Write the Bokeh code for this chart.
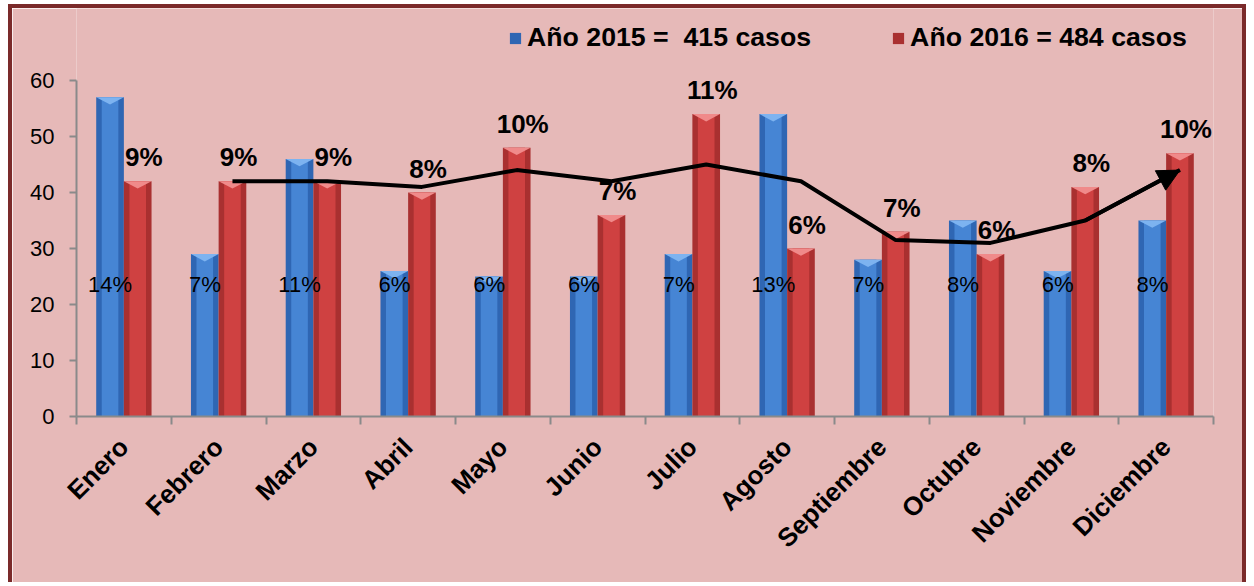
import math
from bokeh.plotting import figure
from bokeh.models import (Range1d, FixedTicker, Legend, LegendItem,
                          ColumnDataSource, Arrow, NormalHead)
from bokeh.core.properties import value
from bokeh.embed import file_html
from bokeh.resources import INLINE

# ---------------- data ----------------
months = ["Enero", "Febrero", "Marzo", "Abril", "Mayo", "Junio", "Julio",
          "Agosto", "Septiembre", "Octubre", "Noviembre", "Diciembre"]
cases_2015 = [57, 29, 46, 26, 25, 25, 29, 54, 28, 35, 26, 35]
cases_2016 = [42, 42, 42, 40, 48, 36, 54, 30, 33, 29, 41, 47]
pct_2015 = ["14%", "7%", "11%", "6%", "6%", "6%", "7%", "13%", "7%", "8%", "6%", "8%"]
pct_2016 = ["9%", "9%", "9%", "8%", "10%", "7%", "11%", "6%", "7%", "6%", "8%", "10%"]
legend_2015 = "Año 2015 =  415 casos"
legend_2016 = "Año 2016 = 484 casos"
y_ticks = [0, 10, 20, 30, 40, 50, 60]

# ---------------- styling ----------------
FONT = "Liberation Sans"
BG = "#e6b9b8"
BORDER = "#7a2a2a"
BLUE_DARK = "#2f66b3"
BLUE_LIGHT = "#4685d4"
BLUE_TOP = "#7db3f0"
RED_DARK = "#a93030"
RED_LIGHT = "#cf4141"
RED_TOP = "#f08a8a"
AXIS = "#8a8a8a"

n = len(months)
centers = [i + 0.5 for i in range(n)]
off = 0.146
bw = 0.292
x15 = [c - off for c in centers]
x16 = [c + off for c in centers]

# moving average (period 2) trend line of the 2016 series, as in the source chart
trend_x = x16[1:]
trend_y = [(cases_2016[i - 1] + cases_2016[i]) / 2 for i in range(1, n)]

src = ColumnDataSource(dict(x15=x15, x16=x16, c15=cases_2015, c16=cases_2016,
                            p15=pct_2015, p16=pct_2016,
                            lab15_y=[23.6] * n))

# bevel-like top wedge for each bar (derived from the bar values)
def wedges(xs, tops):
    wx, wy = [], []
    for x, t in zip(xs, tops):
        wx.append([x - bw / 2, x + bw / 2, x])
        wy.append([t, t, t - 1.3])
    return wx, wy

w15x, w15y = wedges(x15, cases_2015)
w16x, w16y = wedges(x16, cases_2016)

p = figure(width=1238, height=578, output_backend="svg", toolbar_location=None,
           x_range=Range1d(0, n), y_range=Range1d(0, 408 / 5.6),
           min_border_left=64, min_border_right=37, min_border_top=0,
           min_border_bottom=170)
p.styles = {"border-left": f"4px solid {BORDER}",
            "border-top": f"4px solid {BORDER}",
            "border-right": f"4px solid {BORDER}",
            "margin-left": "8px", "margin-top": "4px"}
p.background_fill_color = BG
p.border_fill_color = BG
p.outline_line_color = None
p.xgrid.grid_line_color = None
p.ygrid.grid_line_color = None

# bars (base + highlight to mimic gradient)
r15 = p.vbar(x="x15", top="c15", width=bw, source=src, fill_color=BLUE_DARK,
             line_color=None)
p.vbar(x="x15", top="c15", width=bw * 0.6, source=src, fill_color=BLUE_LIGHT,
       line_color=None)
r16 = p.vbar(x="x16", top="c16", width=bw, source=src, fill_color=RED_DARK,
             line_color=None)
p.vbar(x="x16", top="c16", width=bw * 0.6, source=src, fill_color=RED_LIGHT,
       line_color=None)
p.patches(w15x, w15y, fill_color=BLUE_TOP, line_color=None)
p.patches(w16x, w16y, fill_color=RED_TOP, line_color=None)

# percentage labels
p.text(x="x15", y="lab15_y", text="p15", source=src, text_font=value(FONT),
       text_font_size="22px", text_color="black", text_align="center",
       text_baseline="middle")
p.text(x="x16", y="c16", text="p16", source=src, text_font=value(FONT),
       text_font_size="26px", text_font_style="bold", text_color="black",
       text_align="center", text_baseline="bottom", x_offset=6, y_offset=-9)

# trend line with arrow
p.line(trend_x, trend_y, line_color="black", line_width=4)
p.add_layout(Arrow(end=NormalHead(size=22, fill_color="black", line_color="black"),
                   x_start=trend_x[-2], y_start=trend_y[-2],
                   x_end=trend_x[-1], y_end=trend_y[-1],
                   line_color="black", line_width=4))

# axes
xa = p.xaxis[0]
xa.ticker = FixedTicker(ticks=centers, minor_ticks=list(range(n + 1)))
xa.major_label_overrides = {c: m for c, m in zip(centers, months)}
xa.major_label_orientation = math.pi / 4
xa.major_label_text_font = FONT
xa.major_label_text_font_size = "26px"
xa.major_label_text_font_style = "bold"
xa.major_label_text_color = "black"
xa.major_label_standoff = 18
xa.major_tick_out = 0
xa.major_tick_in = 0
xa.minor_tick_out = 8
xa.minor_tick_in = 0
xa.minor_tick_line_color = AXIS
xa.minor_tick_line_width = 2
xa.axis_line_color = AXIS
xa.axis_line_width = 2

ya = p.yaxis[0]
ya.ticker = FixedTicker(ticks=y_ticks)
ya.bounds = (0, 60)
ya.major_label_text_font = FONT
ya.major_label_text_font_size = "22px"
ya.major_label_text_color = "black"
ya.major_label_standoff = 15
ya.major_tick_out = 7
ya.major_tick_in = 0
ya.major_tick_line_color = AXIS
ya.major_tick_line_width = 2
ya.minor_tick_line_color = None
ya.axis_line_color = AXIS
ya.axis_line_width = 2

# legend at the top of the chart
legend = Legend(items=[LegendItem(label=legend_2015, renderers=[r15]),
                       LegendItem(label=legend_2016, renderers=[r16])],
                location=(432, 363), orientation="horizontal",
                label_text_font=FONT, label_text_font_size="26.7px",
                label_text_font_style="bold", label_text_color="black",
                label_height=30, glyph_width=14, glyph_height=14,
                label_standoff=5, spacing=80, padding=0, margin=0,
                border_line_color=None, background_fill_alpha=0)
p.add_layout(legend, "center")

open("out.html", "w").write(file_html(p, INLINE))
